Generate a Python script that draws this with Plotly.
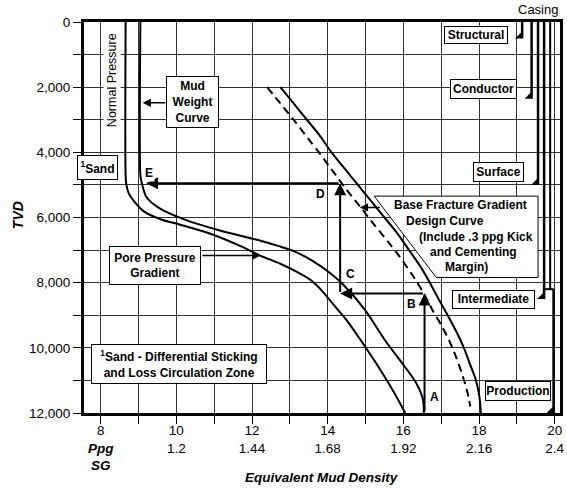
import plotly.graph_objects as go

# ---------------- data ----------------
pore_ppg = [8.66, 8.66, 8.68, 8.74, 8.88, 9.15, 9.6, 10.1, 10.9, 11.7, 12.2, 12.75,
            13.2, 13.55, 13.85, 14.1, 14.5, 14.81, 15.34, 15.77, 16.05]
pore_tvd = [0, 4700, 5000, 5250, 5500, 5820, 6060, 6220, 6500, 6880, 7160, 7420,
            7680, 7920, 8250, 8600, 9150, 9660, 10580, 11400, 12000]

mud_ppg = [9.05, 9.05, 9.08, 9.21, 9.56, 10.26, 11.13, 12.18, 12.71, 13.1, 13.6,
           14.0, 14.42, 14.99, 15.51, 16.04, 16.35, 16.52, 16.54]
mud_tvd = [0, 4700, 4900, 5370, 5720, 6080, 6390, 6700, 6880, 7030, 7330,
           7650, 8070, 8840, 9760, 10580, 11100, 11600, 12000]

frac_ppg = [12.75, 13.1, 13.45, 13.8, 14.1, 14.45, 14.8, 15.15, 15.5, 15.85, 16.15,
            16.45, 16.7, 16.93, 17.17, 17.4, 17.6, 17.76, 17.92, 18.01, 18.05]
frac_tvd = [2000, 2500, 3000, 3500, 4000, 4500, 5000, 5500, 6000, 6500, 7000,
            7500, 8000, 8500, 9000, 9500, 10000, 10500, 11000, 11500, 12000]

design_ppg = [12.4, 12.75, 13.1, 13.5, 13.8, 14.15, 14.5, 14.88, 15.25, 15.6, 15.9,
              16.2, 16.5, 16.75, 17.0, 17.22, 17.4, 17.55, 17.68, 17.77]
design_tvd = [2000, 2500, 3000, 3600, 4050, 4600, 5150, 5700, 6250, 6750, 7200,
              7700, 8250, 8800, 9300, 9800, 10300, 10800, 11300, 11800]

casing_names = ["Structural", "Conductor", "Surface", "Intermediate", "Production"]
casing_ppg = [19.14, 19.39, 19.56, 19.72, 19.97]
casing_top_tvd = [0, 0, 0, 0, 8200]
casing_shoe_tvd = [500, 2350, 5000, 8500, 12000]
tieback_ppg = 19.88
tieback_tvd = 8200

sel_ppg = [16.56, 16.56, 14.33, 14.33, 9.2]
sel_tvd = [12000, 8330, 8330, 4950, 4950]
sel_labels = ["A", "B", "C", "D", "E"]
sel_label_ppg = [16.81, 16.22, 14.61, 13.80, 9.27]
sel_label_tvd = [11500, 8650, 7720, 5290, 4625]

ppg_ticks = list(range(8, 21))
ppg_ticktext = ["8<br><b><i>Ppg</i></b><br><b><i>SG</i></b>", "", "10<br>1.2", "", "12<br>1.44", "",
                "14<br>1.68", "", "16<br>1.92", "", "18<br>2.16", "", "20<br>2.4"]
tvd_ticks = list(range(0, 12001, 1000))
tvd_ticktext = ["0", "", "2,000", "", "4,000", "", "6,000", "", "8,000", "", "10,000", "", "12,000"]

FONT = "Liberation Sans, Arial, sans-serif"

fig = go.Figure()

fig.add_trace(go.Scatter(x=pore_ppg, y=pore_tvd, mode="lines",
                         line=dict(color="black", width=2, shape="spline", smoothing=0.8)))
fig.add_trace(go.Scatter(x=mud_ppg, y=mud_tvd, mode="lines",
                         line=dict(color="black", width=2, shape="spline", smoothing=0.8)))
fig.add_trace(go.Scatter(x=frac_ppg, y=frac_tvd, mode="lines",
                         line=dict(color="black", width=2, shape="spline", smoothing=0.8)))
fig.add_trace(go.Scatter(x=design_ppg, y=design_tvd, mode="lines",
                         line=dict(color="black", width=2, dash="8px,5px", shape="spline", smoothing=0.8)))

# casing strings
for name, cx, top, shoe in zip(casing_names, casing_ppg, casing_top_tvd, casing_shoe_tvd):
    fig.add_trace(go.Scatter(x=[cx, cx], y=[top, shoe], mode="lines",
                             line=dict(color="black", width=2.5)))
    fig.add_trace(go.Scatter(x=[cx - 0.06], y=[shoe - 70], mode="markers",
                             marker=dict(symbol="triangle-se", size=8, color="black")))
# production tie-back and hanger
fig.add_trace(go.Scatter(x=[tieback_ppg, tieback_ppg], y=[0, tieback_tvd], mode="lines",
                         line=dict(color="black", width=2)))
fig.add_trace(go.Scatter(x=[casing_ppg[3], casing_ppg[4]], y=[tieback_tvd, tieback_tvd], mode="lines",
                         line=dict(color="black", width=2)))

annotations = []
# selection path arrows
for i in range(len(sel_ppg) - 1):
    annotations.append(dict(x=sel_ppg[i + 1], y=sel_tvd[i + 1], ax=sel_ppg[i], ay=sel_tvd[i],
                            xref="x", yref="y", axref="x", ayref="y", text="",
                            showarrow=True, arrowhead=2, arrowsize=1.2, arrowwidth=2,
                            arrowcolor="black"))
for lab, lx, ly in zip(sel_labels, sel_label_ppg, sel_label_tvd):
    annotations.append(dict(x=lx, y=ly, xref="x", yref="y", text="<b>" + lab + "</b>", showarrow=False,
                            font=dict(family=FONT, size=12, color="black"),
                            bgcolor="white"))

def box(text, x, y, w, h, align="center"):
    return dict(x=x, y=y, xref="x", yref="y", text=text, showarrow=False,
                font=dict(family=FONT, size=12, color="black"),
                bgcolor="white", bordercolor="black", borderwidth=1, borderpad=1,
                width=w, height=h, align=align, valign="middle")

annotations += [
    box("<b>Mud<br>Weight<br>Curve</b>", 10.42, 2463, 49, 48),
    box("<b><sup>1</sup>Sand</b>", 7.924, 4475, 37, 21),
    box("<b>Pore Pressure<br>Gradient</b>", 9.44, 7478, 88, 35),
    box("<b><sup>1</sup>Sand - Differential Sticking<br>and Loss Circulation Zone</b>", 10.08, 10481, 172, 36),
    box("<b>Structural</b>", 17.93, 399, 60, 14),
    box("<b>Conductor</b>", 18.13, 2064, 63, 15.5),
    box("<b>Surface</b>", 18.52, 4597, 47, 16),
    box("<b>Intermediate</b>", 18.37, 8513, 79, 14.5),
    box("<b>Production</b>", 19.03, 11330, 62, 15.5),
]

# label arrows
arrow_specs = [
    (9.11, 2480, 9.75, 2480),
    (12.23, 7170, 10.65, 7170),
    (14.85, 5691, 15.42, 5691),
]
for tx, ty, sx, sy in arrow_specs:
    annotations.append(dict(x=tx, y=ty, ax=sx, ay=sy, xref="x", yref="y", axref="x", ayref="y",
                            text="", showarrow=True, arrowhead=2, arrowsize=1.1, arrowwidth=1.5,
                            arrowcolor="black"))

# fracture design label
frac_lines = ["Base Fracture Gradient", "Design Curve", "(Include .3 ppg Kick", "and Cementing", "Margin)"]
frac_line_x = [15.71, 16.02, 16.37, 16.65, 17.06]
frac_line_y = [5620, 6111, 6612, 7072, 7533]
for t, lx, ly in zip(frac_lines, frac_line_x, frac_line_y):
    annotations.append(dict(x=lx, y=ly, xref="x", yref="y", text="<b>" + t + "</b>", showarrow=False,
                            xanchor="left", font=dict(family=FONT, size=12, color="black")))

annotations += [
    dict(x=8.289, y=1797, xref="x", yref="y", text="Normal Pressure", textangle=-90,
         showarrow=False, bgcolor="white", font=dict(family=FONT, size=12.5, color="black")),
    dict(x=1, y=1.033, xref="paper", yref="paper", text="Casing", xanchor="right",
         yanchor="middle", showarrow=False, font=dict(family=FONT, size=13, color="black")),
    dict(x=-0.1387, y=0.506, xref="paper", yref="paper", text="<b><i>TVD</i></b>", textangle=-90,
         xanchor="center", yanchor="middle",
         showarrow=False, font=dict(family=FONT, size=14, color="black")),
    dict(x=0.5, y=-0.1646, xref="paper", yref="paper", text="<b><i>Equivalent Mud Density</i></b>",
         showarrow=False, xanchor="center", yanchor="middle", font=dict(family=FONT, size=13.5, color="black")),
]

shapes = [dict(type="path",
               path="M 15.23,5344 L 19.56,5344 L 19.56,7840 L 16.87,7840 Z",
               xref="x", yref="y", fillcolor="white", line=dict(color="black", width=1),
               layer="above")]

fig.update_layout(
    width=567, height=489,
    margin=dict(l=84, r=3.5, t=22, b=76.3),
    paper_bgcolor="white", plot_bgcolor="white",
    showlegend=False,
    font=dict(family=FONT, size=13.5, color="black"),
    annotations=annotations,
    shapes=shapes,
    xaxis=dict(range=[7.56, 20.14], tickmode="array", tickvals=ppg_ticks, ticktext=ppg_ticktext,
               showgrid=True, gridcolor="#333", gridwidth=1, zeroline=False,
               showline=True, linecolor="black", linewidth=3, mirror=True,
               ticks="outside", ticklen=8, tickcolor="black", tickwidth=1,
               ticklabelstandoff=-5,
               tickfont=dict(family=FONT, size=13.5, color="black")),
    yaxis=dict(range=[12000, 0], tickmode="array", tickvals=tvd_ticks, ticktext=tvd_ticktext,
               showgrid=True, gridcolor="#333", gridwidth=1, zeroline=False,
               showline=True, linecolor="black", linewidth=3, mirror=True,
               ticks="outside", ticklen=8, tickcolor="black", tickwidth=1,
               tickfont=dict(family=FONT, size=13.5, color="black")),
)

fig.write_html("out.html")
